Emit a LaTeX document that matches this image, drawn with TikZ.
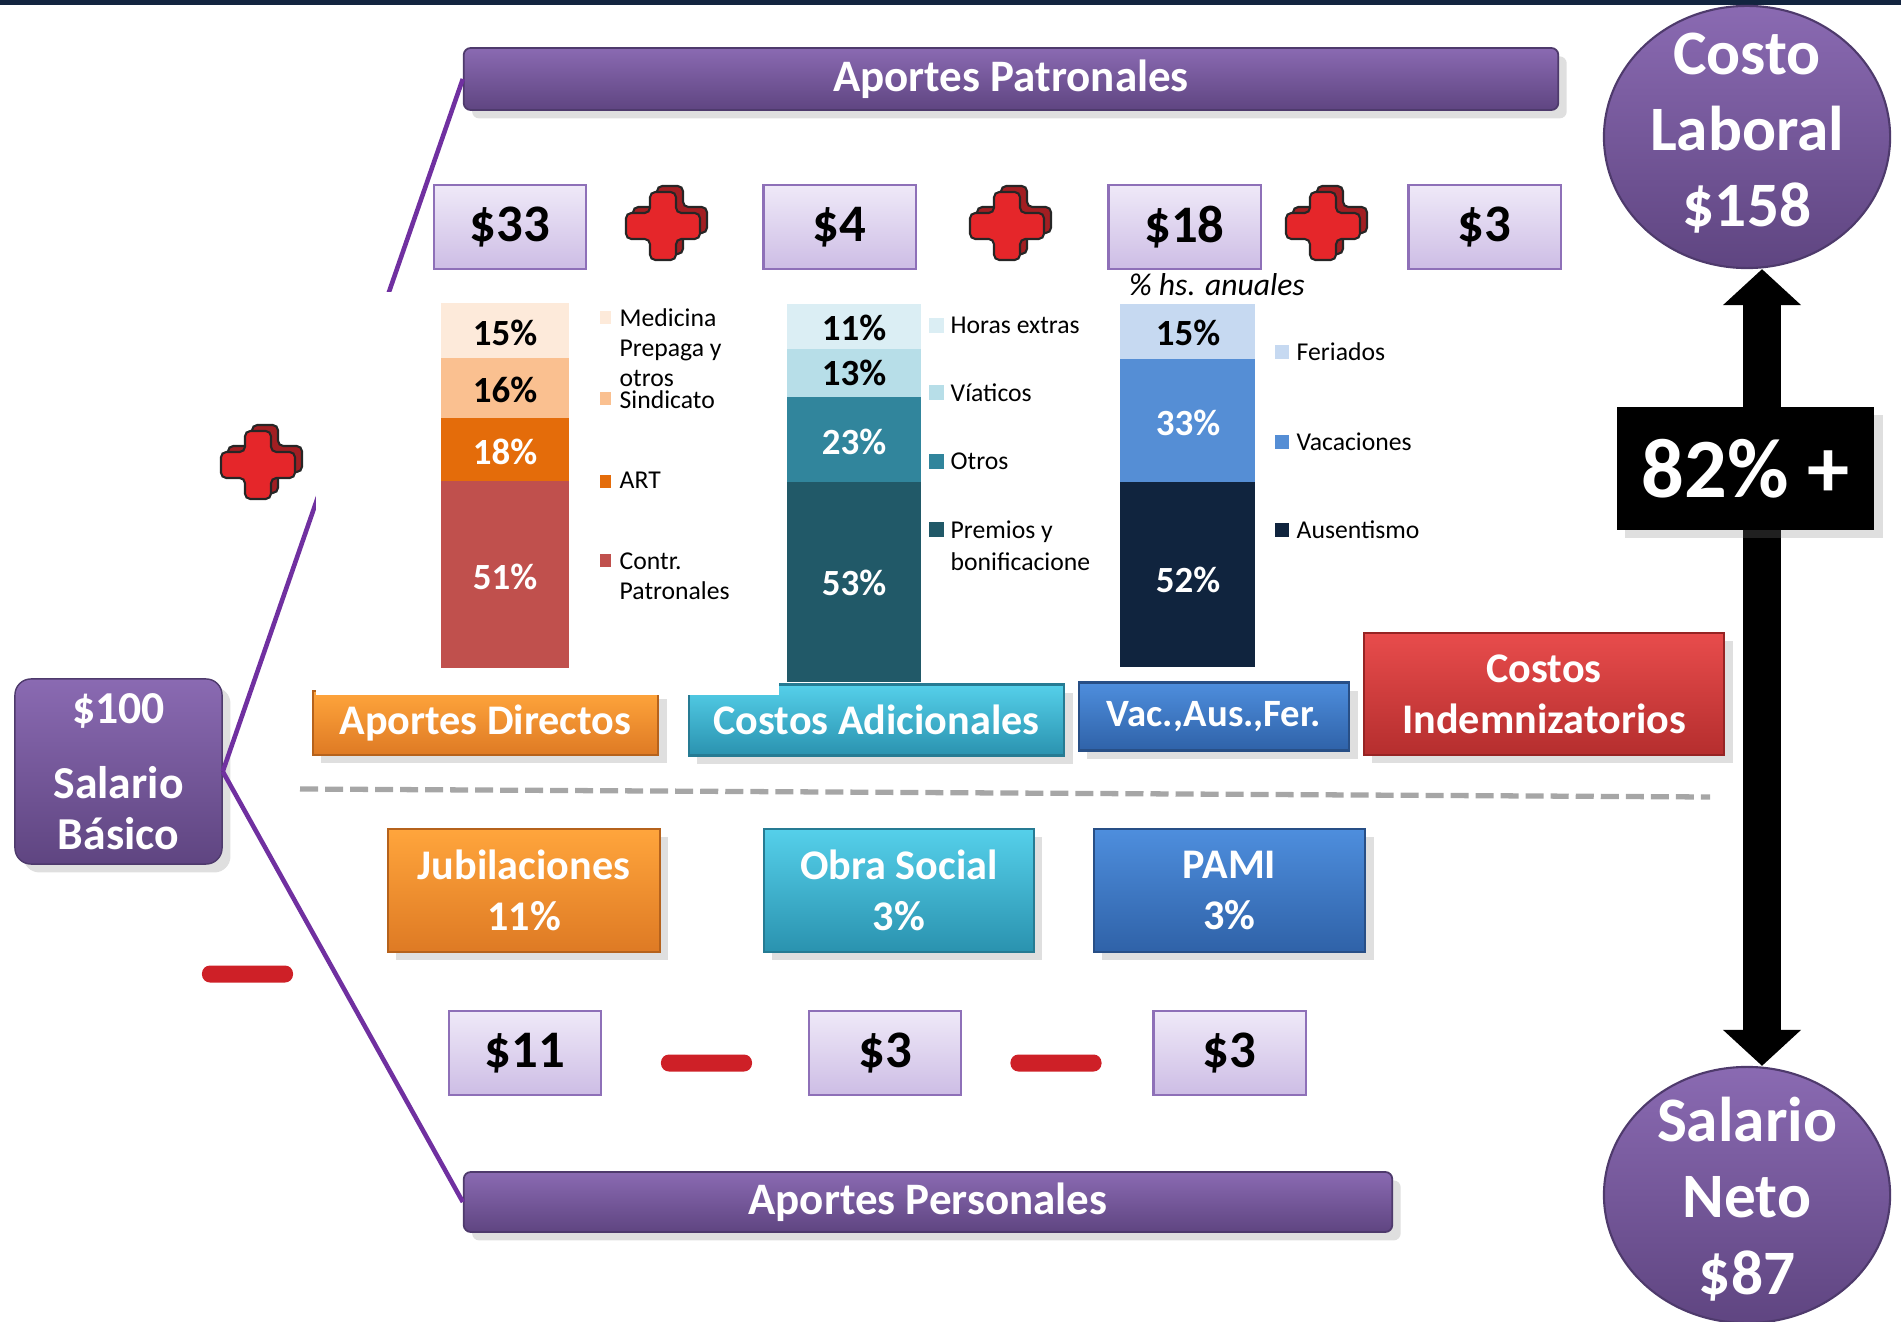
\documentclass[tikz,border=0pt]{standalone}
\usepackage{fontspec}
\setmainfont{Carlito}
\usepackage{tikz}
\usetikzlibrary{shapes.geometric,arrows.meta,shadows}

\definecolor{slidenavy}{HTML}{13243F}
\definecolor{purptop}{HTML}{8A6AB2}
\definecolor{purpbot}{HTML}{5F4581}
\definecolor{purpedge}{HTML}{4E3A6C}
\definecolor{branchline}{HTML}{7030A0}
\definecolor{lavtop}{HTML}{EFE9F8}
\definecolor{lavbot}{HTML}{CDBDE5}
\definecolor{lavedge}{HTML}{8E70B8}
\definecolor{orgtop}{HTML}{FFA53C}
\definecolor{orgbot}{HTML}{DE7A24}
\definecolor{orgedge}{HTML}{B5621C}
\definecolor{cyntop}{HTML}{55D0EA}
\definecolor{cynbot}{HTML}{2A92AF}
\definecolor{cynedge}{HTML}{267B93}
\definecolor{blutop}{HTML}{4E8EDD}
\definecolor{blubot}{HTML}{2F62A8}
\definecolor{bluedge}{HTML}{284F86}
\definecolor{redtop}{HTML}{E84C4C}
\definecolor{redbot}{HTML}{B52E2E}
\definecolor{rededge}{HTML}{962424}
\definecolor{crossred}{HTML}{E5262A}
\definecolor{crossdark}{HTML}{A21E22}
\definecolor{minusred}{HTML}{CE2027}
\definecolor{dashgray}{HTML}{A6A6A6}
% chart colours
\definecolor{ad1}{HTML}{FDEADA}
\definecolor{ad2}{HTML}{FAC090}
\definecolor{ad3}{HTML}{E46C0A}
\definecolor{ad4}{HTML}{C0504D}
\definecolor{ca1}{HTML}{DBEEF4}
\definecolor{ca2}{HTML}{B7DEE8}
\definecolor{ca3}{HTML}{31859C}
\definecolor{ca4}{HTML}{215968}
\definecolor{va1}{HTML}{C6D9F1}
\definecolor{va2}{HTML}{558ED5}
\definecolor{va3}{HTML}{10243E}

\newcommand{\redcross}[2]{%
  \begin{scope}[shift={(#1,#2)}]
    \begin{scope}[shift={(7,-6)}]
      \filldraw[crossback] (-13,-34) -- (13,-34) -- (13,-13) -- (37,-13) -- (37,13) -- (13,13) -- (13,34) -- (-13,34) -- (-13,13) -- (-37,13) -- (-37,-13) -- (-13,-13) -- cycle;
    \end{scope}
    \filldraw[crossfront] (-13,-34) -- (13,-34) -- (13,-13) -- (37,-13) -- (37,13) -- (13,13) -- (13,34) -- (-13,34) -- (-13,13) -- (-37,13) -- (-37,-13) -- (-13,-13) -- cycle;
  \end{scope}}

\begin{document}
\begin{tikzpicture}[x=0.01cm, y=-0.01cm,
  bar/.style={draw=purpedge, line width=0.5pt, rounded corners=2pt, top color=purptop, bottom color=purpbot, text=white, inner sep=0pt, font=\bfseries\fontsize{12.8}{15}\selectfont, drop shadow={opacity=0.25}},
  basebox/.style={draw=purpedge, rounded corners=0.16cm, top color=purptop, bottom color=purpbot, text=white, align=center, minimum width=2.07cm, minimum height=1.85cm, inner sep=0pt, font=\bfseries\fontsize{13}{14.4}\selectfont, drop shadow={opacity=0.25}},
  money/.style={draw=lavedge, line width=0.6pt, top color=lavtop, bottom color=lavbot, minimum width=1.52cm, minimum height=0.84cm, inner sep=0pt, font=\bfseries\fontsize{15}{18}\selectfont},
  cbox/.style={text=white, align=center, inner sep=0pt, line width=0.6pt, font=\bfseries\fontsize{12}{14.6}\selectfont, drop shadow={opacity=0.25}},
  orangebox/.style={cbox, draw=orgedge, top color=orgtop, bottom color=orgbot},
  cyanbox/.style={cbox, draw=cynedge, top color=cyntop, bottom color=cynbot},
  bluebox/.style={cbox, draw=bluedge, top color=blutop, bottom color=blubot},
  redbox/.style={cbox, draw=rededge, top color=redtop, bottom color=redbot},
  oval/.style={ellipse, draw=purpedge, line width=0.6pt, top color=purptop, bottom color=purpbot, inner sep=0pt},
  ovaltext/.style={text=white, align=center, inner sep=0pt, font=\bfseries\fontsize{18}{21.7}\selectfont},
  blackbox/.style={fill=black, text=white, minimum width=2.57cm, minimum height=1.23cm, inner sep=0pt, font=\bfseries\fontsize{24}{28}\selectfont, drop shadow={opacity=0.25}},
  minus/.style={fill=minusred, rounded corners=0.08cm, minimum width=0.91cm, minimum height=0.17cm, inner sep=0pt},
  pct/.style={font=\bfseries\fontsize{10.5}{12}\selectfont, inner sep=0pt},
  legend/.style={anchor=north west, align=left, inner sep=0pt, font=\fontsize{7.3}{8.5}\selectfont},
  branch/.style={draw=branchline, line width=1.3pt},
  bigarrow/.style={line width=0.38cm, arrows={Triangle[width=0.76cm,length=0.36cm]-Triangle[width=0.76cm,length=0.36cm]}},
  crossfront/.style={fill=crossred, draw=black!85, line width=0.6pt, rounded corners=1.5pt},
  crossback/.style={fill=crossdark, draw=black!85, line width=0.6pt, rounded corners=1.5pt}]

\useasboundingbox (0,0) rectangle (1901,1322);
\fill[slidenavy] (0,0) rectangle (1901,5);


\node[basebox] (base) at (118.5,771.5) {\$100\\[7pt]Salario\\Básico};
\node[bar, minimum width=10.94cm, minimum height=0.62cm] (patr) at (1011,79) {Aportes Patronales};
\node[bar, minimum width=9.28cm, minimum height=0.60cm] (pers) at (928,1202) {Aportes Personales};

\draw[branch] (base.east) -- (patr.west);
\draw[branch] (base.east) -- (pers.west);

\node[orangebox, minimum width=3.45cm, minimum height=0.64cm] (dir) at (485.5,723) {Aportes Directos};
\node[cyanbox, minimum width=3.75cm, minimum height=0.71cm] (adic) at (876.5,720) {Costos Adicionales};
\node[bluebox, minimum width=2.70cm, minimum height=0.68cm, font=\bfseries\fontsize{11}{13}\selectfont] (vac) at (1214,716.5) {Vac.,Aus.,Fer.};
\node[redbox, minimum width=3.60cm, minimum height=1.22cm] (indem) at (1544,694) {Costos\\Indemnizatorios};

% chart area
\fill[white] (316,292) rectangle (779,695);

% aportes directos
\fill[ad1] (441,303) rectangle (569,358);
\fill[ad2] (441,358) rectangle (569,418);
\fill[ad3] (441,418) rectangle (569,481);
\fill[ad4] (441,481) rectangle (569,668);
\node[pct] (ad15) at (505,333) {15\%};
\node[pct] (ad16) at (505,390) {16\%};
\node[pct, text=white] (ad18) at (505,452) {18\%};
\node[pct, text=white] (ad51) at (505,577) {51\%};

\fill[ad1] (600,311) rectangle (611,324);
\fill[ad2] (600,392) rectangle (611,405);
\fill[ad3] (600,475) rectangle (611,488);
\fill[ad4] (600,554) rectangle (611,567);
\node[legend] (lgmed) at (619,308) {Medicina\\Prepaga y\\otros};
\node[legend] (lgsin) at (619,390) {Sindicato};
\node[legend] (lgart) at (619,471) {ART};
\node[legend] (lgcon) at (619,552) {Contr.\\Patronales};

% costos adicionales
\fill[ca1] (787,304) rectangle (921,349);
\fill[ca2] (787,349) rectangle (921,397);
\fill[ca3] (787,397) rectangle (921,482);
\fill[ca4] (787,482) rectangle (921,682);
\node[pct] (ca11) at (854,328) {11\%};
\node[pct] (ca13) at (854,373) {13\%};
\node[pct, text=white] (ca23) at (854,442) {23\%};
\node[pct, text=white] (ca53) at (854,583) {53\%};

\fill[ca1] (929,318) rectangle (944,333);
\fill[ca2] (929,385) rectangle (944,400);
\fill[ca3] (929,454) rectangle (944,469);
\fill[ca4] (929,522) rectangle (944,537);
\node[legend] (lghor) at (950,316) {Horas extras};
\node[legend] (lgvia) at (950,383) {Víaticos};
\node[legend] (lgotr) at (950,452) {Otros};
\node[legend, font=\fontsize{7.3}{9.1}\selectfont] (lgpre) at (950,520) {Premios y\\bonificacione};

% vacaciones, ausentismo, feriados
\node[inner sep=0pt, font=\itshape\fontsize{9}{11}\selectfont] (hsan) at (1217,285) {\% hs. anuales};
\fill[va1] (1120,304) rectangle (1255,359);
\fill[va2] (1120,359) rectangle (1255,482);
\fill[va3] (1120,482) rectangle (1255,667);
\node[pct] (va15) at (1188,333) {15\%};
\node[pct, text=white] (va33) at (1188,423) {33\%};
\node[pct, text=white] (va52) at (1188,580) {52\%};

\fill[va1] (1275,345) rectangle (1289,359);
\fill[va2] (1275,435) rectangle (1289,449);
\fill[va3] (1275,523) rectangle (1289,537);
\node[legend] (lgfer) at (1296,342) {Feriados};
\node[legend] (lgvac) at (1296,432) {Vacaciones};
\node[legend] (lgaus) at (1296,520) {Ausentismo};

% montos
\node[money] (m33) at (510,227) {\$33};
\node[money] (m4) at (839.5,227) {\$4};
\node[money] (m18) at (1184.5,227) {\$18};
\node[money] (m3) at (1484.5,227) {\$3};

\redcross{258}{465}
\redcross{663}{226}
\redcross{1007}{226}
\redcross{1323}{226}

\draw[dashgray, line width=1.5pt, dash pattern=on 0.18cm off 0.07cm] (300,789) -- (1710,797);

\node[orangebox, minimum width=2.72cm, minimum height=1.23cm] (jub) at (524,890.5) {Jubilaciones\\11\%};
\node[cyanbox, minimum width=2.70cm, minimum height=1.23cm] (obra) at (899,890.5) {Obra Social\\3\%};
\node[bluebox, minimum width=2.71cm, minimum height=1.23cm] (pami) at (1229.5,890.5) {PAMI\\3\%};

\node[minus] (mn1) at (247.5,974) {};
\node[money] (m11) at (525,1053) {\$11};
\node[minus] (mn2) at (706.5,1063) {};
\node[money] (m3a) at (885,1053) {\$3};
\node[minus] (mn3) at (1056,1063) {};
\node[money] (m3b) at (1229.5,1053) {\$3};

% costo laboral / salario neto
\node[oval, minimum width=2.86cm, minimum height=2.62cm] (costo) at (1747,137) {};
\node[ovaltext] (costotxt) at (1747,133) {Costo\\Laboral\\\$158};
\node[oval, minimum width=2.86cm, minimum height=2.56cm] (neto) at (1747,1195) {};
\node[ovaltext] (netotxt) at (1747,1199) {Salario\\Neto\\\$87};
\draw[bigarrow] ([xshift=0.15cm]neto.north) -- ([xshift=0.15cm]costo.south);
\node[blackbox] (pct82) at (1745.5,468.5) {82\% +};

\end{tikzpicture}
\end{document}
